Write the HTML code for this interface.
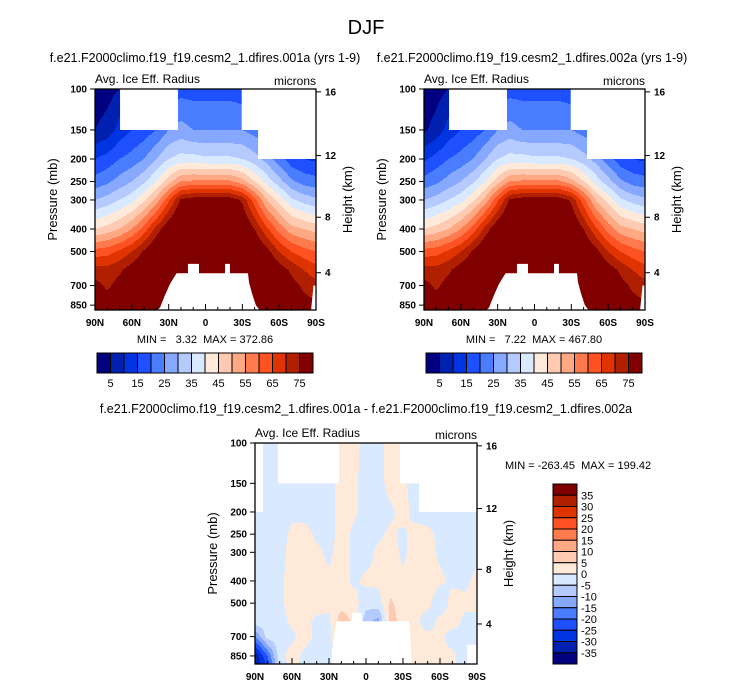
<!DOCTYPE html>
<html><head><meta charset="utf-8">
<style>
body{margin:0;background:#fff;}
svg{display:block;font-family:"Liberation Sans",Arial,sans-serif;}
text{white-space:pre;}
</style></head>
<body>
<svg id="fig" width="732" height="689" viewBox="0 0 732 689" xmlns="http://www.w3.org/2000/svg">
<rect width="732" height="689" fill="#fff"/>
<text x="366" y="34" font-size="20" text-anchor="middle">DJF</text>
<text x="205" y="62" font-size="12.5" text-anchor="middle">f.e21.F2000climo.f19_f19.cesm2_1.dfires.001a (yrs 1-9)</text>
<text x="532" y="62" font-size="12.5" text-anchor="middle">f.e21.F2000climo.f19_f19.cesm2_1.dfires.002a (yrs 1-9)</text>
<text x="366" y="413" font-size="12.5" text-anchor="middle">f.e21.F2000climo.f19_f19.cesm2_1.dfires.001a - f.e21.F2000climo.f19_f19.cesm2_1.dfires.002a</text>
<text x="505" y="469" font-size="11">MIN = -263.45  MAX = 199.42</text>
</svg>
<script>
// ---- data ----
const lats = [90,80,70,60,50,40,30,20,10,0,-10,-20,-30,-40,-50,-60,-70,-80,-90];
const pLevels = [100,150,200,250,300,400,500,600,700,850,950];
const fieldA = [
 [2,3,5,10,12,15,17,18,18,18,18,18,17,16,15,15,14,12,10],
 [5,7,12,15,17,20,25,27,25,25,25,25,25,23,22,20,15,12,10],
 [15,17,20,22,25,30,35,37,37,36,36,36,35,32,28,22,17,15,14],
 [22,24,27,30,34,40,48,55,56,56,56,56,52,45,38,32,26,23,22],
 [30,32,35,38,44,52,64,76,78,78,78,78,74,62,50,43,36,33,31],
 [45,47,50,55,62,72,80,85,85,85,85,85,82,75,66,58,52,50,48],
 [62,63,66,70,76,82,85,85,85,85,85,85,85,82,77,70,65,62,60],
 [72,72,74,78,80,85,85,85,85,85,85,85,85,85,82,78,74,70,67],
 [77,74,77,80,82,85,85,85,85,85,85,85,85,85,82,80,77,74,72],
 [78,78,80,82,84,85,85,85,85,85,85,85,85,85,84,82,80,77,76],
 [78,78,80,82,84,85,85,85,85,85,85,85,85,85,84,82,80,77,76]];
const fieldB = [
 [2,3,5,10,12,15,17,18,18,18,18,18,17,16,15,15,14,12,10],
 [4,7,12,15,17,20,25,27,25,25,25,25,25,23,22,20,15,12,10],
 [14,17,20,22,25,30,35,37,37,36,36,36,35,32,28,22,17,15,14],
 [22,24,27,30,34,40,48,55,56,56,56,56,52,45,38,32,26,23,22],
 [30,32,35,38,44,52,64,76,78,78,78,78,74,62,50,43,36,33,31],
 [45,47,50,55,62,72,80,85,85,85,85,85,82,75,66,58,52,50,48],
 [62,63,66,70,76,82,85,85,85,85,85,85,85,82,77,70,65,62,60],
 [72,72,74,78,80,85,85,85,85,85,85,85,85,85,82,78,74,70,67],
 [77,74,77,80,82,85,85,85,85,85,85,85,85,85,82,80,77,74,72],
 [78,78,80,82,84,85,85,85,85,85,85,85,85,85,84,82,80,77,76],
 [78,78,80,82,84,85,85,85,85,85,85,85,85,85,84,82,80,77,76]];
const fieldDiff = [
 [-2,-2,-2,-2,-2,-2,-2,2,2,-2,-2,2,2,-2,-2,-2,-2,-2,-2],
 [-2,-2,-2,-2,-2,-2,-2,2,1,-2,-2,2,1,-2,-2,-2,-2,-2,-2],
 [-2,-2,-2,-1,-2,-2,-2,2,1,-2,-2,-1,2,-2,-2,-2,-1,-2,-2],
 [-2,-2,-2,1,2,-1,-2,2,-1,-2,-1,1,-1,2,1,-1,-2,-2,-2],
 [-2,-2,-2,2,2,1,-1,2,-1,-2,1,2,-1,2,2,-1,-2,-2,-1],
 [-2,-2,-1,2,2,2,1,2,-1,1,1,2,1,2,2,1,-1,-1,1],
 [-2,-2,-1,2,2,2,1,3,2,-3,-2,6,2,3,2,-4,2,1,1],
 [-2,-2,-2,1,1,-1,-1,8,4,-8,-12,8,2,2,-4,2,2,-1,-1],
 [-15,-3,-2,-1,2,-1,-1,4,1,-2,-2,1,2,2,2,1,-2,-1,-1],
 [-35,-20,-2,2,-1,-3,-2,2,2,2,2,2,2,2,2,1,1,-2,-2],
 [-35,-25,-3,2,-2,-4,-2,2,2,2,2,2,2,2,2,1,1,-2,-2]];
const levelsTop = [5,10,15,20,25,30,35,40,45,50,55,60,65,70,75];
const labelsTop = ["5","15","25","35","45","55","65","75"];
const levelsDiff = [-35,-30,-25,-20,-15,-10,-5,0,5,10,15,20,25,30,35];
const labelsDiff = ["35","30","25","20","15","10","5","0","-5","-10","-15","-20","-25","-30","-35"];
const pTicks = [100,150,200,250,300,400,500,700,850];
const latTicks = [90,60,30,0,-30,-60,-90];
const latTickLabels = ["90N","60N","30N","0","30S","60S","90S"];
const heightTicks = [16,12,8,4];
// missing regions (lat, pressure)
const maskTop = [
 [[69.6,100],[22.4,100],[22.4,150],[69.6,150]],
 [[-29.5,100],[-90,100],[-90,200],[-42.8,200],[-42.8,150],[-29.5,150]],
 [[39,960],[37,870],[33,770],[29,690],[26,650],[23.5,620],[14.3,620],[14.3,565],[5.3,565],[5.3,620],[-15.9,620],[-15.9,565],[-19.9,565],[-19.9,620],[-34.6,620],[-35.5,680],[-38,760],[-41,850],[-44,960]],
 [[-88,700],[-90,700],[-90,960],[-86,960]]];
const maskDiff = [
 [[90,100],[83.5,100],[83.5,200],[90,200]],
 [[71.5,100],[21.9,100],[21.9,150],[71.5,150]],
 [[-27.6,100],[-90,100],[-90,200],[-43,200],[-43,150],[-27.6,150]],
 [[28,960],[27.5,800],[26,700],[24,600],[11.4,600],[11.4,553],[3.2,553],[3.2,600],[-35,600],[-36,700],[-37,960]],
 [[-82,760],[-90,760],[-90,960],[-82,960]]];
const colorsTop = ["#000080","#0020b0","#0034e0","#1e50ff","#4a7cff","#86a8ff","#b5cbff","#d9e9ff","#ffe9d9","#ffcab2","#ffa984","#ff7a4c","#ff5222","#e03400","#b02000","#800000"];
const colorsDiff = colorsTop;

const NS="http://www.w3.org/2000/svg";
const svg=document.getElementById('fig');
function mk(tag,attrs,parent){const e=document.createElementNS(NS,tag);for(const k in attrs)e.setAttribute(k,attrs[k]);(parent||svg).appendChild(e);return e;}

function interp(field,lat,p){
  let fi=(90-lat)/10; fi=Math.max(0,Math.min(lats.length-1.0001,fi));
  const i0=Math.floor(fi), tx=fi-i0;
  const lp=Math.log(p); let j0=0;
  while(j0<pLevels.length-2 && Math.log(pLevels[j0+1])<lp) j0++;
  let ty=(lp-Math.log(pLevels[j0]))/(Math.log(pLevels[j0+1])-Math.log(pLevels[j0]));
  ty=Math.max(0,Math.min(1,ty));
  const a=field[j0][i0],b=field[j0][i0+1],c=field[j0+1][i0],d=field[j0+1][i0+1];
  return (a*(1-tx)+b*tx)*(1-ty)+(c*(1-tx)+d*tx)*ty;
}
function colorIdx(v,levels){let k=0;while(k<levels.length&&v>=levels[k])k++;return k;}

function panel(opt){
  const {x0,y0,w,h,k,field,levels,colors,masks,name}=opt;
  const g=mk('g',{});
  
  
  const X=lat=>x0+(90-lat)/180*w;
  const Y=p=>y0+k*Math.log(p/100);
  const field_g=mk('g',{},g);
  
  
  for(let yy=0;yy<h;yy++){
    const p=100*Math.exp((yy+0.5)/k);
    let start=0,cur=-1;
    for(let xx=0;xx<=w;xx++){
      let ci=-2;
      if(xx<w){const lat=90-(xx+0.5)/w*180;ci=colorIdx(interp(field,lat,p),levels);}
      if(ci!==cur){
        if(cur>=0){const r=mk('rect',{x:x0+start,y:y0+yy,width:xx-start,height:1.05,fill:colors[cur]},field_g);
          
          }
        start=xx;cur=ci;
      }
    }
  }
  masks.forEach(poly=>{
    const pg=mk('polygon',{points:poly.map(q=>X(q[0])+','+Math.min(Y(q[1]),y0+h)).join(' '),fill:'#fff'},g);
    
    
  });
  const fr=mk('rect',{x:x0,y:y0,width:w,height:h,fill:'none',stroke:'#000','stroke-width':1.3},g);
  
  
  pTicks.forEach(p=>{
    const y=Y(p);
    mk('line',{x1:x0-5,x2:x0,y1:y,y2:y,stroke:'#000','stroke-width':1},g);
    const t=mk('text',{x:x0-8,y:y+3.5,'font-size':10,'text-anchor':'end','font-weight':'bold'},g);
    t.textContent=p;
    
    
  });
  heightTicks.forEach(hk=>{
    let pp=hk>11?226.32*Math.exp(-(hk-11)*1000/6341.6):1013.25*Math.pow(1-hk*1000*0.0065/288.15,5.2559);
    const y=Y(pp);
    mk('line',{x1:x0+w,x2:x0+w+5,y1:y,y2:y,stroke:'#000','stroke-width':1},g);
    const t=mk('text',{x:x0+w+9,y:y+3.5,'font-size':10,'font-weight':'bold'},g);
    t.textContent=hk;
    
    
  });
  for(let lat=90;lat>=-90;lat-=10){
    const x=X(lat),major=lat%30===0;
    mk('line',{x1:x,x2:x,y1:y0+h,y2:y0+h-(major?6:3),stroke:'#000','stroke-width':1},g);
  }
  latTicks.forEach((lat,i)=>{
    const t=mk('text',{x:X(lat),y:y0+h+16,'font-size':10,'text-anchor':'middle','font-weight':'bold'},g);
    t.textContent=latTickLabels[i];
    
    
  });
  const t1=mk('text',{x:x0,y:y0-6,'font-size':12},g);t1.textContent='Avg. Ice Eff. Radius';
  
  
  const t2=mk('text',{x:x0+w,y:y0-4,'font-size':12,'text-anchor':'end'},g);t2.textContent='microns';
  
  
  const yl=mk('text',{x:0,y:0,'font-size':13,'text-anchor':'middle',transform:`translate(${x0-38},${y0+h/2}) rotate(-90)`},g);
  yl.textContent='Pressure (mb)';
  
  
  const yr=mk('text',{x:0,y:0,'font-size':13,'text-anchor':'middle',transform:`translate(${x0+w+36},${y0+h/2}) rotate(-90)`},g);
  yr.textContent='Height (km)';
  
  
  return g;
}

function hbar(x0,y0,w,h,colors,levels,labels,name){
  const g=mk('g',{});
  
  
  const bw=w/colors.length;
  colors.forEach((c,i)=>{const r=mk('rect',{x:x0+i*bw,y:y0,width:bw,height:h,fill:c,stroke:'#000','stroke-width':1},g);
    
    });
  labels.forEach((l,i)=>{const t=mk('text',{x:x0+(1+2*i)*bw,y:y0+h+14,'font-size':11,'text-anchor':'middle'},g);t.textContent=l;
    
    });
}
function vbar(x0,y0,w,h,colors,labels,name){
  const g=mk('g',{});
  
  
  const bh=h/colors.length;
  colors.slice().reverse().forEach((c,i)=>{const r=mk('rect',{x:x0,y:y0+i*bh,width:w,height:bh,fill:c,stroke:'#000','stroke-width':1},g);
    
    });
  labels.forEach((l,i)=>{const t=mk('text',{x:x0+w+4,y:y0+(i+1)*bh+4,'font-size':11},g);t.textContent=l;
    
    });
}

panel({x0:95,y0:89,w:221,h:221,k:101,field:fieldA,levels:levelsTop,colors:colorsTop,masks:maskTop,name:'left-panel'});
panel({x0:424,y0:89,w:221,h:221,k:101,field:fieldB,levels:levelsTop,colors:colorsTop,masks:maskTop,name:'right-panel'});
panel({x0:255,y0:443,w:222,h:221,k:99.5,field:fieldDiff,levels:levelsDiff,colors:colorsDiff,masks:maskDiff,name:'difference-panel'});
hbar(97,353,216,20,colorsTop,levelsTop,labelsTop,'left-colorbar');
hbar(426,353,216,20,colorsTop,levelsTop,labelsTop,'right-colorbar');
vbar(553,484,24,180,colorsDiff,labelsDiff,'difference-colorbar');
const m1=mk('text',{x:205,y:343,'font-size':11,'text-anchor':'middle'});m1.textContent='MIN =   3.32  MAX = 372.86';


const m2=mk('text',{x:534,y:343,'font-size':11,'text-anchor':'middle'});m2.textContent='MIN =   7.22  MAX = 467.80';


</script>
</body></html>
